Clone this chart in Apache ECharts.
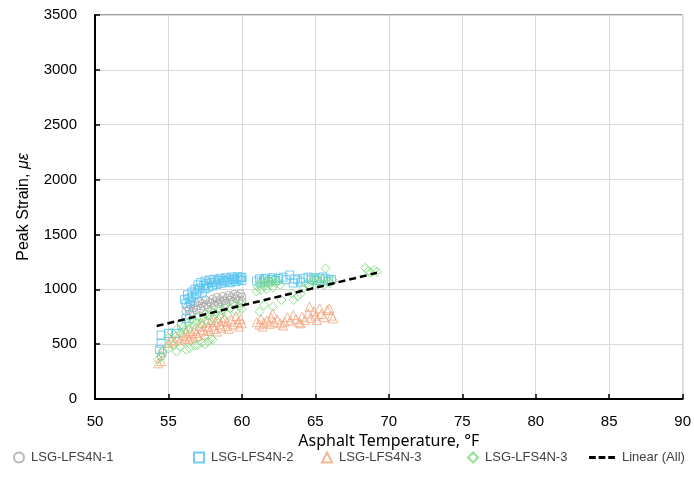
<!DOCTYPE html>
<html>
<head>
<meta charset="utf-8">
<script src="https://cdn.jsdelivr.net/npm/echarts@6/dist/echarts.min.js"></script>
<style>
  html, body { margin: 0; padding: 0; background: #fff; }
  #chart { width: 694px; height: 496px; }
</style>
</head>
<body>
<div id="chart"></div>
<script>
// Axis ticks
const xTicks = [50, 55, 60, 65, 70, 75, 80, 85, 90];
const yTicks = [0, 500, 1000, 1500, 2000, 2500, 3000, 3500];

// Legend labels
const seriesNames = ['LSG-LFS4N-1', 'LSG-LFS4N-2', 'LSG-LFS4N-3', 'LSG-LFS4N-3', 'Linear (All)'];

// Peak strain (με) vs asphalt temperature (°F), one array per gauge
const lfs1 = [
  [54.5, 395], [54.6, 420],
  [56.2, 800], [56.3, 840], [56.4, 815], [56.5, 865], [56.6, 790], [56.7, 830], [56.8, 880],
  [56.9, 810], [57.0, 850], [57.1, 895], [57.2, 825], [57.3, 870], [57.4, 845], [57.5, 905],
  [57.6, 860], [57.7, 835], [57.8, 885], [57.9, 870], [58.0, 910], [58.1, 850], [58.2, 890],
  [58.3, 925], [58.4, 870], [58.5, 905], [58.6, 885], [58.7, 935], [58.8, 895], [58.9, 870],
  [59.0, 920], [59.1, 945], [59.2, 900], [59.3, 930], [59.4, 885], [59.5, 955], [59.6, 915],
  [59.7, 940], [59.8, 900], [59.9, 960], [60.0, 930], [60.0, 890]
];

const lfs2 = [
  [54.4, 450], [54.5, 507], [54.5, 583], [55.0, 598], [55.5, 598], [55.9, 675], [56.2, 735],
  [56.45, 766],
  [56.1, 905], [56.2, 870], [56.3, 950], [56.4, 915], [56.5, 890], [56.6, 975], [56.6, 930],
  [56.8, 1000], [56.9, 955], [57.0, 1040], [57.0, 985], [57.1, 1010], [57.2, 1060], [57.3, 965],
  [57.4, 1035], [57.5, 1075], [57.5, 1005], [57.6, 1050], [57.7, 1020], [57.8, 1085], [57.9, 1060],
  [58.0, 1030], [58.1, 1090], [58.2, 1065], [58.3, 1045], [58.4, 1080], [58.5, 1100], [58.6, 1055],
  [58.7, 1085], [58.8, 1068], [58.9, 1105], [59.0, 1075], [59.1, 1092], [59.2, 1060], [59.3, 1112],
  [59.4, 1085], [59.5, 1098], [59.6, 1070], [59.7, 1115], [59.8, 1090], [59.9, 1105], [60.0, 1080],
  [60.0, 1110],
  [61.0, 1075], [61.2, 1095], [61.3, 1060], [61.5, 1085], [61.6, 1100], [61.8, 1070], [62.0, 1090],
  [62.1, 1105], [62.3, 1080], [62.5, 1098], [62.8, 1110], [63.0, 1088], [63.25, 1130], [63.5, 1057],
  [63.6, 1095], [63.8, 1085], [64.0, 1065], [64.2, 1100], [64.5, 1110], [64.7, 1090], [64.9, 1105],
  [65.1, 1080], [65.3, 1100], [65.5, 1112], [65.7, 1095], [65.9, 1075], [66.1, 1090]
];

const lfs3 = [
  [54.3, 325], [54.5, 345], [55.0, 510], [55.2, 540], [55.4, 525], [55.6, 560], [55.8, 535],
  [56.0, 580], [56.1, 550], [56.2, 605], [56.3, 570], [56.4, 545], [56.5, 620], [56.6, 590],
  [56.7, 560], [56.8, 640], [56.9, 600], [57.0, 575], [57.1, 665], [57.2, 615], [57.3, 690],
  [57.4, 630], [57.5, 590], [57.6, 700], [57.7, 655], [57.8, 620], [57.9, 720], [58.0, 670],
  [58.1, 640], [58.2, 700], [58.3, 615], [58.4, 735], [58.5, 680], [58.6, 650], [58.7, 710],
  [58.8, 745], [58.9, 665], [59.0, 700], [59.1, 640], [59.3, 725], [59.4, 680], [59.6, 755],
  [59.7, 700], [59.8, 660], [59.9, 730], [60.0, 690],
  [61.0, 700], [61.2, 680], [61.3, 730], [61.4, 660], [61.5, 695], [61.7, 715], [61.9, 685],
  [62.0, 740], [62.1, 780], [62.2, 700], [62.4, 725], [62.6, 690], [62.8, 670], [62.9, 705],
  [63.1, 745], [63.3, 715], [63.5, 765], [63.7, 730], [63.9, 700], [64.0, 690], [64.1, 750],
  [64.3, 720], [64.5, 780], [64.6, 840], [64.7, 740], [64.9, 800], [65.0, 760], [65.1, 720],
  [65.3, 826], [65.4, 775], [65.6, 745], [65.8, 810], [65.95, 826], [66.1, 760], [66.2, 735]
];

const lfs3b = [
  [54.3, 360], [54.5, 385], [54.6, 440], [55.0, 460], [55.3, 490], [55.55, 431], [55.8, 475],
  [56.2, 450], [56.45, 462], [56.8, 485], [57.0, 492], [57.3, 515], [57.5, 500], [57.7, 522],
  [57.9, 553], [58.0, 540],
  [55.0, 560], [55.2, 610], [55.4, 585], [55.6, 640], [55.8, 600], [56.0, 660], [56.1, 625],
  [56.3, 690], [56.4, 645], [56.6, 720], [56.7, 670], [56.9, 700], [57.0, 750], [57.2, 685],
  [57.3, 730], [57.5, 775], [57.6, 710], [57.8, 760], [57.9, 800], [58.1, 735], [58.2, 780],
  [58.4, 820], [58.5, 760], [58.7, 800], [58.8, 840], [59.0, 775], [59.2, 825], [59.4, 860],
  [59.6, 800], [59.8, 845], [59.9, 875], [60.0, 820],
  [61.0, 980], [61.1, 1020], [61.2, 1050], [61.3, 995], [61.4, 1075], [61.5, 1030], [61.6, 1060],
  [61.7, 1000], [61.8, 1085], [61.9, 1045], [62.0, 1070], [62.1, 1015], [62.2, 1090], [62.3, 1055],
  [62.4, 1075], [62.6, 1040],
  [61.2, 796], [61.5, 857], [62.1, 841], [62.7, 902], [63.4, 963], [63.5, 902], [63.8, 935],
  [64.0, 960], [64.2, 1010], [64.4, 1050], [64.6, 1030], [64.8, 1070], [64.9, 1100], [65.0, 1045],
  [65.1, 1085], [65.3, 1060], [65.5, 1095], [65.6, 1040], [65.7, 1191], [65.8, 1075], [66.0, 1055],
  [66.2, 1080],
  [68.4, 1195], [68.6, 1165], [68.8, 1150], [69.0, 1175], [69.2, 1160]
];

// Linear trend over all readings (end points)
const trend = [[54.2, 665], [69.2, 1150]];

const colors = ['#A5A5A5', '#4EC1F0', '#F4A47C', '#76D97A', '#000000'];
const symbols = ['circle', 'rect', 'triangle', 'diamond', 'none'];
const sizes = [8, 8, 9, 9, 0];
const pointSets = [lfs1, lfs2, lfs3, lfs3b];

const chart = echarts.init(document.getElementById('chart'), null, { renderer: 'canvas' });

const tickFont = { fontFamily: 'Liberation Sans', fontSize: 15, color: '#000' };

const series = pointSets.map((pts, i) => ({
  name: 'S' + i,
  type: 'scatter',
  data: pts,
  symbol: symbols[i],
  symbolSize: sizes[i],
  itemStyle: { color: 'rgba(255,255,255,0)', borderColor: colors[i], borderWidth: 1 },
  z: 2 + i
}));
series.push({
  name: 'S4',
  type: 'line',
  data: trend,
  symbol: 'none',
  itemStyle: { color: '#000' },
  lineStyle: { color: '#000', width: 2.5, type: [7, 4] },
  z: 10
});

// one legend block per series so each entry sits at its own position
const legendLeft = [8, 188, 316, 462, 584];
const dashIcon = 'path://M0,0h7v3h-7z M10,0h7v3h-7z M20,0h7v3h-7z';
const legends = seriesNames.map((label, i) => ({
  data: i === 4 ? [{ name: 'S4', icon: dashIcon }] : ['S' + i],
  left: legendLeft[i],
  top: 446,
  itemWidth: i === 4 ? 26 : 10,
  itemHeight: i === 4 ? 3 : 10,
  itemGap: 4,
  selectedMode: false,
  formatter: () => label,
  textStyle: { fontFamily: 'Liberation Sans', fontSize: 13, color: '#404040', padding: [0, 0, 0, 2] }
}));

chart.setOption({
  animation: false,
  backgroundColor: '#fff',
  grid: {
    left: 95, right: 10, top: 15, bottom: 97,
    show: true, borderColor: '#404040', borderWidth: 1
  },
  legend: legends,
  xAxis: {
    type: 'value',
    min: xTicks[0], max: xTicks[xTicks.length - 1], interval: 5,
    name: 'Asphalt Temperature, °F',
    nameLocation: 'middle',
    nameGap: 34,
    nameTextStyle: { fontFamily: 'Noto Sans', fontSize: 16, color: '#000' },
    axisLine: { show: true, onZero: false, lineStyle: { color: '#000', width: 2 } },
    axisTick: { show: true, inside: true, length: 5, lineStyle: { color: '#000', width: 1.5 } },
    axisLabel: Object.assign({ margin: 15, formatter: v => String(v) }, tickFont),
    splitLine: { show: true, lineStyle: { color: '#D9D9D9', width: 1 } }
  },
  yAxis: {
    type: 'value',
    min: yTicks[0], max: yTicks[yTicks.length - 1], interval: 500,
    name: 'Peak Strain, {i|με}',
    nameLocation: 'middle',
    nameGap: 63,
    nameTextStyle: {
      fontFamily: 'Liberation Sans', fontSize: 16, color: '#000',
      rich: { i: { fontFamily: 'Liberation Sans', fontSize: 16, fontStyle: 'italic', color: '#000' } }
    },
    axisLine: { show: true, onZero: false, lineStyle: { color: '#000', width: 2 } },
    axisTick: { show: true, inside: true, length: 5, lineStyle: { color: '#000', width: 1.5 } },
    axisLabel: Object.assign({ margin: 18, formatter: v => String(v) }, tickFont),
    splitLine: { show: true, lineStyle: { color: '#D9D9D9', width: 1 } }
  },
  series: series
});
</script>
</body>
</html>
